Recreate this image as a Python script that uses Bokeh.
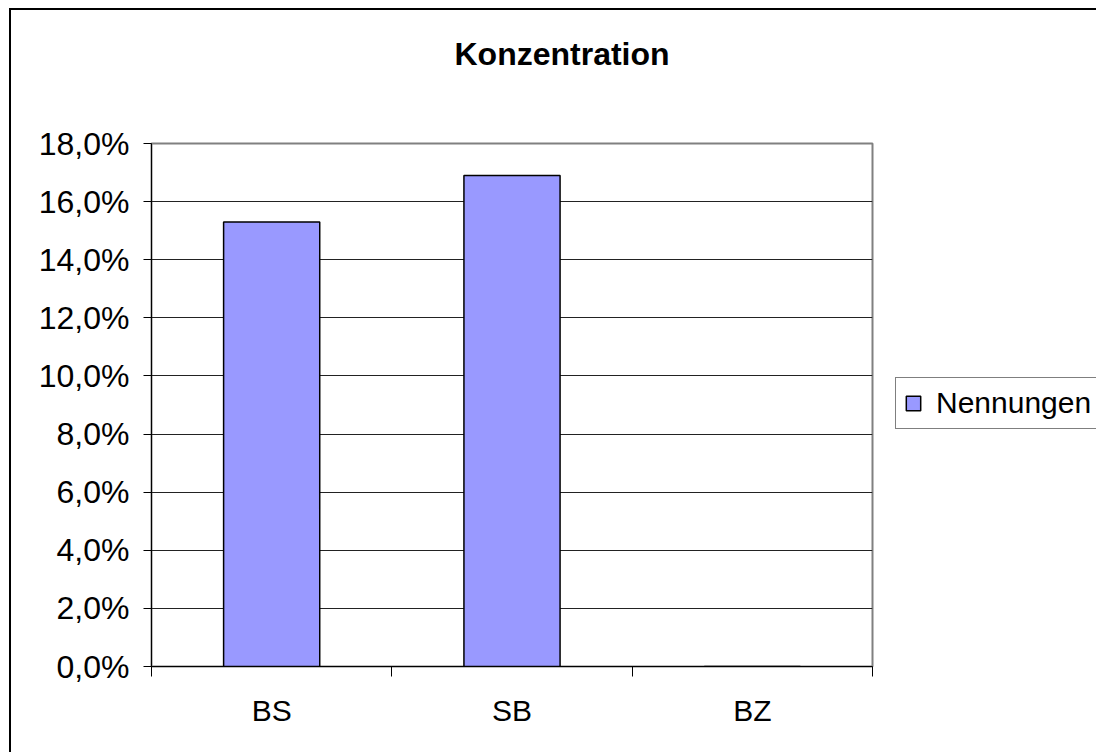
from bokeh.plotting import figure
from bokeh.models import FixedTicker, Legend, LegendItem, ColumnDataSource, Range1d, Title, Spacer
from bokeh.layouts import row, column
from bokeh.embed import file_html
from bokeh.resources import INLINE

# data
categories = ["BS", "SB", "BZ"]
values = [15.3, 16.9, 0.0]          # percent
y_ticks = [0, 2, 4, 6, 8, 10, 12, 14, 16, 18]
series_name = "Nennungen"
title_text = "Konzentration"

FONT = "Liberation Sans"
BAR_FILL = "#9999FF"
centers = [i + 0.5 for i in range(len(categories))]
bounds = list(range(len(categories) + 1))

src = ColumnDataSource(dict(x=centers, top=values, cat=categories))

# page geometry (pixels)
MX, MY, BW = 9, 8, 2       # outer margin and chart border width
OX, OY = MX + BW, MY + BW  # content origin inside the chart border
FL, FR, FT, FB = 151, 872, 143, 666
H = 742
W1 = 880 - OX
W2 = 1096 - 880

p = figure(width=W1, height=H, output_backend="svg", toolbar_location=None, title=None,
           x_range=Range1d(0, len(categories)), y_range=Range1d(0, y_ticks[-1]),
           min_border_left=FL - OX, min_border_right=OX + W1 - FR,
           min_border_top=FT - OY, min_border_bottom=OY + H - FB)
p.background_fill_color = "white"
p.border_fill_color = "white"
p.outline_line_color = "#808080"
p.outline_line_width = 2

r = p.vbar(x="x", top="top", width=0.4, source=src, fill_color=BAR_FILL,
           line_color="black", line_width=1.5)

# title: spacer + real title
p.add_layout(Title(text=" ", text_font_size="10px", standoff=59), "above")
p.add_layout(Title(text=title_text, text_font=FONT, text_font_size="32px",
                   text_font_style="bold", text_color="black", align="left",
                   offset=303, standoff=0), "above")

# y axis
p.yaxis.ticker = FixedTicker(ticks=y_ticks)
p.yaxis.major_label_overrides = {t: f"{t:.1f}".replace(".", ",") + "%" for t in y_ticks}
p.yaxis.major_label_text_font = FONT
p.yaxis.major_label_text_font_size = "32px"
p.yaxis.major_label_text_color = "black"
p.yaxis.major_tick_out = 8
p.yaxis.major_tick_in = 0
p.yaxis.minor_tick_out = 0
p.yaxis.minor_tick_in = 0
p.yaxis.major_label_standoff = 14
p.yaxis.axis_line_color = "black"
p.yaxis.major_tick_line_color = "black"

# x axis
p.xaxis.ticker = FixedTicker(ticks=centers, minor_ticks=bounds)
p.xaxis.major_label_overrides = {c: n for c, n in zip(centers, categories)}
p.xaxis.major_label_text_font = FONT
p.xaxis.major_label_text_font_size = "30px"
p.xaxis.major_label_text_color = "black"
p.xaxis.major_tick_out = 0
p.xaxis.major_tick_in = 0
p.xaxis.minor_tick_out = 10
p.xaxis.minor_tick_in = 0
p.xaxis.minor_tick_line_color = "black"
p.xaxis.major_label_standoff = 17
p.xaxis.axis_line_color = "black"

# grid
p.xgrid.grid_line_color = None
p.ygrid.ticker = FixedTicker(ticks=y_ticks)
p.ygrid.grid_line_color = "#222222"
p.ygrid.grid_line_width = 1

# legend panel (second figure; its frame is aligned with the main frame)
p2 = figure(width=W2, height=H, output_backend="svg", toolbar_location=None,
            x_range=Range1d(0, 1), y_range=Range1d(0, 1),
            min_border_left=0, min_border_right=0, min_border_top=0, min_border_bottom=0)
p2.axis.visible = False
p2.grid.visible = False
p2.outline_line_color = None
p2.background_fill_color = "white"
p2.border_fill_color = "white"
# swatch-only renderer for the legend (no drawable points)
legend_src = ColumnDataSource(dict(x=[float("nan")], top=[float("nan")]))
r2 = p2.vbar(x="x", top="top", width=0.4, source=legend_src, fill_color=BAR_FILL,
             line_color="black", line_width=1.5)
legend = Legend(items=[LegendItem(label=series_name, renderers=[r2])],
                location=(895 - 880, FB - 429), orientation="vertical",
                label_text_font=FONT, label_text_font_size="30px", label_text_color="black",
                glyph_width=18, glyph_height=18, label_standoff=14,
                padding=8, margin=0, label_width=200,
                border_line_color="black", border_line_width=1,
                background_fill_color="white")
p2.add_layout(legend)

# outer chart border (left and top) built from coloured spacers
top_line = Spacer(width=BW + W1 + W2, height=BW, background="black")
left_line = Spacer(width=BW, height=H, background="black")
layout = column(
    Spacer(width=MX + BW + W1 + W2, height=MY),
    row(Spacer(width=MX, height=BW + H),
        column(top_line, row(left_line, p, p2, spacing=0), spacing=0),
        spacing=0),
    spacing=0)

open("out.html", "w").write(file_html(layout, INLINE))
